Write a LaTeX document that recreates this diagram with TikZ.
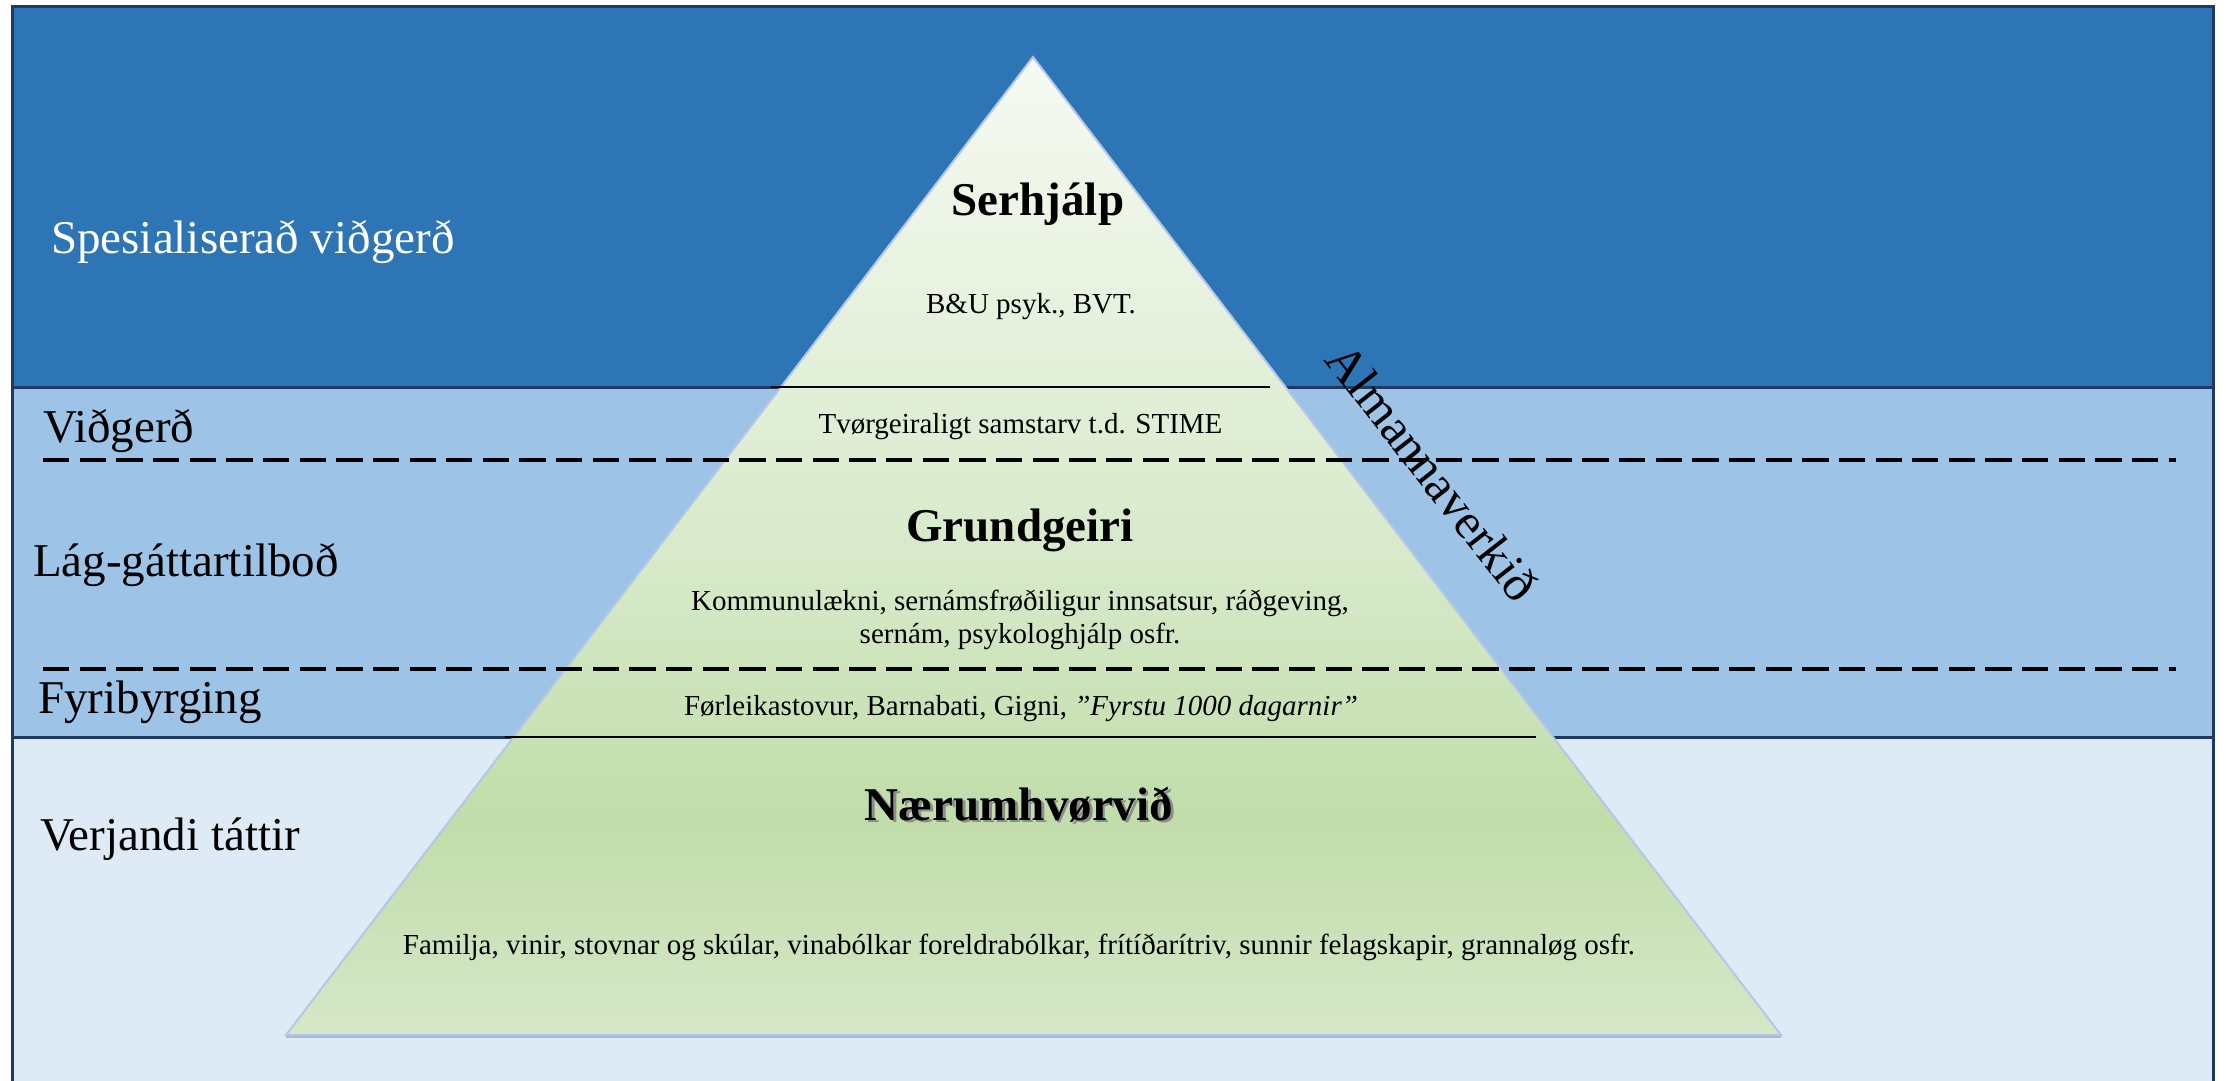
\documentclass[tikz,border=0pt]{standalone}
\usepackage{fontspec}
\setmainfont{Liberation Serif}
\definecolor{topband}{HTML}{2E75B6}
\definecolor{midband}{HTML}{9DC3E6}
\definecolor{lowband}{HTML}{DEEBF7}
\definecolor{framec}{HTML}{1F3864}
\definecolor{pyrT}{HTML}{F6FAF2}
\definecolor{pyrU}{HTML}{D8EACB}
\definecolor{pyrM}{HTML}{C1DDAA}
\definecolor{pyrB}{HTML}{D5E7C8}
\definecolor{pyredge}{HTML}{B4C7E7}
\pgfdeclareverticalshading{pyrshade}{100bp}{color(0bp)=(pyrB); color(25bp)=(pyrB); color(36bp)=(pyrM); color(50bp)=(pyrU); color(75bp)=(pyrT); color(100bp)=(pyrT)}
\tikzset{
  framel/.style={draw=framec, line width=3pt},
  dashl/.style={draw=black, line width=4pt, dash pattern=on 26.3pt off 10.35pt},
  innerl/.style={draw=black, line width=1.6pt},
  sidelabel/.style={anchor=base west, inner sep=0pt, font=\fontsize{47}{56}\selectfont},
  title/.style={anchor=base, inner sep=0pt, font=\fontsize{47}{56}\selectfont\bfseries},
  small/.style={anchor=base, inner sep=0pt, align=center, font=\fontsize{29}{33}\selectfont},
}
\begin{document}
\begin{tikzpicture}[x=1pt, y=-1pt]
\useasboundingbox (0,0) rectangle (2226,1080);
\begin{scope}
\clip (0,0) rectangle (2226,1080);
% bands
\fill[topband] (12.5,6) rectangle (2213,387);
\fill[midband] (12.5,387) rectangle (2213,737);
\fill[lowband] (12.5,737) rectangle (2213,1100);
\draw[framel] (12.5,1100) -- (12.5,6) -- (2213,6) -- (2213,1100);
\draw[framel] (12.5,387) -- (2213,387);
\draw[framel] (12.5,737) -- (2213,737);
% pyramid
\path[shade, shading=pyrshade, draw=pyredge, line width=2pt] (1033,57) -- (1781,1035) -- (286,1035) -- cycle;
\draw[pyredge!80!gray, line width=2.5pt] (286,1037) -- (1781,1037);
% dashed lines
\draw[dashl] (43,460) -- (2176,460);
\draw[dashl] (43,669) -- (2176,669);
% inner lines
\draw[innerl] (771,387) -- (1270,387);
\draw[innerl] (505,737) -- (1536,737);
\end{scope}
% side labels
\node[sidelabel, text=white] (spes) at (51,253) {Spesialiserað viðgerð};
\node[sidelabel] (vidg) at (43,442) {Viðgerð};
\node[sidelabel] (lag) at (33,576) {Lág-gáttartilboð};
\node[sidelabel] (fyri) at (38,713) {Fyribyrging};
\node[sidelabel] (verj) at (40,850) {Verjandi táttir};
% pyramid texts
\node[title] (serh) at (1038,215) {Serhjálp};
\node[small] (bu) at (1031,313) {B\&U psyk., BVT.};
\node[small] (tvor) at (1020.5,433) {Tvørgeiraligt samstarv t.d. STIME};
\node[title] (grund) at (1020,541) {Grundgeiri};
\node[small] (komm) at (1020,643) {Kommunulækni, sernámsfrøðiligur innsatsur, ráðgeving,\\sernám, psykologhjálp osfr.};
\node[small] (forl) at (1021,715) {Førleikastovur, Barnabati, Gigni, \textit{”Fyrstu 1000 dagarnir”}};
\node[title, text=black!45] (naershadow) at (1021.5,822.5) {Nærumhvørvið};
\node[title] (naer) at (1019,820) {Nærumhvørvið};
\node[small] (fam) at (1019,954) {Familja, vinir, stovnar og skúlar, vinabólkar foreldrabólkar, frítíðarítriv, sunnir felagskapir, grannaløg osfr.};
\node[rotate=-52, inner sep=0pt, font=\fontsize{50}{60}\selectfont] (alm) at (1433,472) {Almannaverkið};
\end{tikzpicture}
\end{document}
